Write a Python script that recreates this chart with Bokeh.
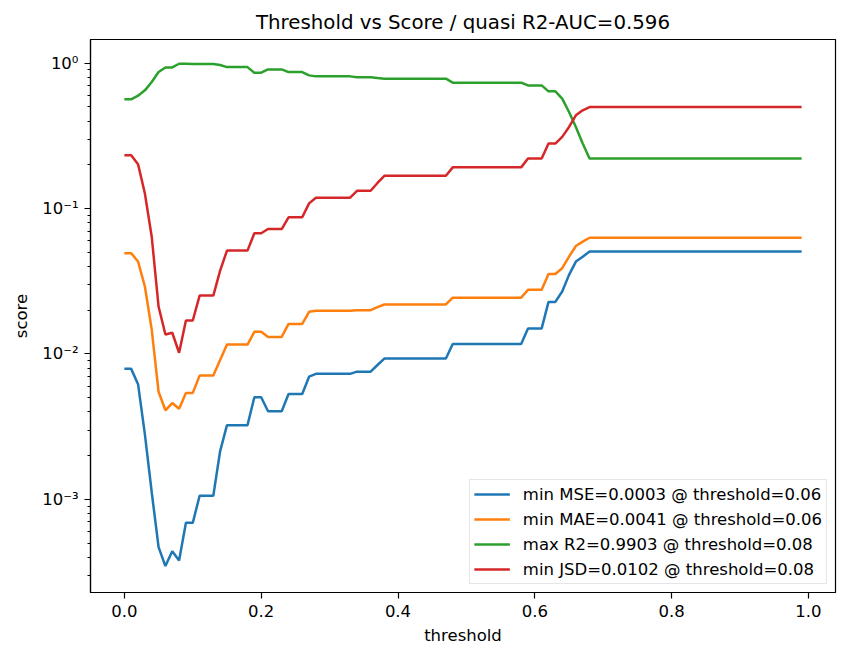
from bokeh.plotting import figure
from bokeh.models import Range1d, FixedTicker, Legend, LegendItem, PrintfTickFormatter
from bokeh.embed import file_html
from bokeh.resources import INLINE

thresholds = [
    0.00, 0.01, 0.02, 0.03, 0.04, 0.05, 0.06, 0.07, 0.08, 0.09,
    0.10, 0.11, 0.12, 0.13, 0.14, 0.15, 0.16, 0.17, 0.18, 0.19,
    0.20, 0.21, 0.22, 0.23, 0.24, 0.25, 0.26, 0.27, 0.28, 0.29,
    0.30, 0.31, 0.32, 0.33, 0.34, 0.35, 0.36, 0.37, 0.38, 0.39,
    0.40, 0.41, 0.42, 0.43, 0.44, 0.45, 0.46, 0.47, 0.48, 0.49,
    0.50, 0.51, 0.52, 0.53, 0.54, 0.55, 0.56, 0.57, 0.58, 0.59,
    0.60, 0.61, 0.62, 0.63, 0.64, 0.65, 0.66, 0.67, 0.68, 0.69,
    0.70, 0.71, 0.72, 0.73, 0.74, 0.75, 0.76, 0.77, 0.78, 0.79,
    0.80, 0.81, 0.82, 0.83, 0.84, 0.85, 0.86, 0.87, 0.88, 0.89,
    0.90, 0.91, 0.92, 0.93, 0.94, 0.95, 0.96, 0.97, 0.98, 0.99,
]

mse = [
    0.0079, 0.0079, 0.0062, 0.0028, 0.00112, 0.00047, 0.000348, 0.00044, 0.00038, 0.00069,
    0.00069, 0.00106, 0.00106, 0.00106, 0.00215, 0.00324, 0.00324, 0.00324, 0.00324, 0.00504,
    0.00504, 0.00404, 0.00404, 0.00404, 0.00531, 0.00531, 0.00531, 0.00698, 0.0073, 0.0073,
    0.0073, 0.0073, 0.0073, 0.0073, 0.00756, 0.00756, 0.00756, 0.0084, 0.0093, 0.0093,
    0.0093, 0.0093, 0.0093, 0.0093, 0.0093, 0.0093, 0.0093, 0.0093, 0.0117, 0.0117,
    0.0117, 0.0117, 0.0117, 0.0117, 0.0117, 0.0117, 0.0117, 0.0117, 0.0117, 0.0150,
    0.0150, 0.0150, 0.0228, 0.0228, 0.0269, 0.0350, 0.0432, 0.0467, 0.0506, 0.0506,
    0.0506, 0.0506, 0.0506, 0.0506, 0.0506, 0.0506, 0.0506, 0.0506, 0.0506, 0.0506,
    0.0506, 0.0506, 0.0506, 0.0506, 0.0506, 0.0506, 0.0506, 0.0506, 0.0506, 0.0506,
    0.0506, 0.0506, 0.0506, 0.0506, 0.0506, 0.0506, 0.0506, 0.0506, 0.0506, 0.0506,
]

mae = [
    0.0493, 0.0493, 0.0432, 0.0291, 0.0147, 0.0055, 0.0041, 0.0046, 0.0042, 0.0054,
    0.0054, 0.0071, 0.0071, 0.0071, 0.0091, 0.0116, 0.0116, 0.0116, 0.0116, 0.0142,
    0.0142, 0.0131, 0.0131, 0.0131, 0.0161, 0.0161, 0.0161, 0.0195, 0.0198, 0.0198,
    0.0198, 0.0198, 0.0198, 0.0198, 0.0200, 0.0200, 0.0200, 0.0210, 0.0219, 0.0219,
    0.0219, 0.0219, 0.0219, 0.0219, 0.0219, 0.0219, 0.0219, 0.0219, 0.0244, 0.0244,
    0.0244, 0.0244, 0.0244, 0.0244, 0.0244, 0.0244, 0.0244, 0.0244, 0.0244, 0.0276,
    0.0276, 0.0276, 0.0355, 0.0355, 0.0389, 0.0467, 0.0553, 0.0592, 0.0630, 0.0630,
    0.0630, 0.0630, 0.0630, 0.0630, 0.0630, 0.0630, 0.0630, 0.0630, 0.0630, 0.0630,
    0.0630, 0.0630, 0.0630, 0.0630, 0.0630, 0.0630, 0.0630, 0.0630, 0.0630, 0.0630,
    0.0630, 0.0630, 0.0630, 0.0630, 0.0630, 0.0630, 0.0630, 0.0630, 0.0630, 0.0630,
]

r2 = [
    0.564, 0.564, 0.597, 0.650, 0.741, 0.868, 0.934, 0.934, 0.9903, 0.990,
    0.988, 0.986, 0.986, 0.985, 0.970, 0.939, 0.939, 0.939, 0.939, 0.859,
    0.859, 0.905, 0.905, 0.905, 0.868, 0.868, 0.868, 0.824, 0.811, 0.811,
    0.811, 0.811, 0.811, 0.811, 0.800, 0.800, 0.800, 0.790, 0.782, 0.782,
    0.782, 0.782, 0.782, 0.782, 0.782, 0.782, 0.782, 0.782, 0.734, 0.734,
    0.734, 0.734, 0.734, 0.734, 0.734, 0.734, 0.734, 0.734, 0.734, 0.703,
    0.703, 0.703, 0.640, 0.640, 0.570, 0.461, 0.364, 0.280, 0.221, 0.221,
    0.221, 0.221, 0.221, 0.221, 0.221, 0.221, 0.221, 0.221, 0.221, 0.221,
    0.221, 0.221, 0.221, 0.221, 0.221, 0.221, 0.221, 0.221, 0.221, 0.221,
    0.221, 0.221, 0.221, 0.221, 0.221, 0.221, 0.221, 0.221, 0.221, 0.221,
]

jsd = [
    0.233, 0.233, 0.202, 0.127, 0.064, 0.0212, 0.0136, 0.0140, 0.0102, 0.0170,
    0.0170, 0.0252, 0.0252, 0.0252, 0.0374, 0.0514, 0.0514, 0.0514, 0.0514, 0.0676,
    0.0676, 0.0723, 0.0723, 0.0723, 0.0871, 0.0871, 0.0871, 0.1086, 0.1187, 0.1187,
    0.1187, 0.1187, 0.1187, 0.1187, 0.1325, 0.1325, 0.1325, 0.150, 0.168, 0.168,
    0.168, 0.168, 0.168, 0.168, 0.168, 0.168, 0.168, 0.168, 0.192, 0.192,
    0.192, 0.192, 0.192, 0.192, 0.192, 0.192, 0.192, 0.192, 0.192, 0.221,
    0.221, 0.221, 0.280, 0.280, 0.311, 0.364, 0.438, 0.474, 0.499, 0.499,
    0.499, 0.499, 0.499, 0.499, 0.499, 0.499, 0.499, 0.499, 0.499, 0.499,
    0.499, 0.499, 0.499, 0.499, 0.499, 0.499, 0.499, 0.499, 0.499, 0.499,
    0.499, 0.499, 0.499, 0.499, 0.499, 0.499, 0.499, 0.499, 0.499, 0.499,
]

series_labels = [
    "min MSE=0.0003 @ threshold=0.06",
    "min MAE=0.0041 @ threshold=0.06",
    "max R2=0.9903 @ threshold=0.08",
    "min JSD=0.0102 @ threshold=0.08",
]
series_colors = ["#1f77b4", "#ff7f0e", "#2ca02c", "#d62728"]

title_text = "Threshold vs Score / quasi R2-AUC=0.596"
x_ticks = [0.0, 0.2, 0.4, 0.6, 0.8, 1.0]
y_ticks = [0.001, 0.01, 0.1, 1.0]
y_tick_labels = {0.001: "10⁻³", 0.01: "10⁻²", 0.1: "10⁻¹", 1.0: "10⁰"}

FONT = "DejaVu Sans"

p = figure(
    width=857, height=647,
    y_axis_type="log",
    x_range=Range1d(-0.0495, 1.0395),
    y_range=Range1d(2.29e-4, 1.454),
    output_backend="svg", toolbar_location=None,
    title=title_text,
    min_border_left=90, min_border_right=22,
    min_border_top=39, min_border_bottom=54,
)
p.grid.visible = False
p.background_fill_color = "white"
p.border_fill_color = "white"
p.outline_line_color = "black"
p.outline_line_width = 1.2

p.title.align = "center"
p.title.text_font = FONT
p.title.text_font_size = "19.8px"
p.title.text_font_style = "normal"
p.title.text_color = "black"
p.title.standoff = 11

for ax in (p.xaxis[0], p.yaxis[0]):
    ax.axis_line_color = "black"
    ax.axis_line_width = 1.2
    ax.major_tick_in = 0
    ax.major_tick_out = 6
    ax.minor_tick_in = 0
    ax.minor_tick_out = 3
    ax.major_tick_line_color = "black"
    ax.minor_tick_line_color = "black"
    ax.major_tick_line_width = 1.2
    ax.minor_tick_line_width = 1
    ax.major_label_text_font = FONT
    ax.major_label_text_font_size = "16.5px"
    ax.major_label_text_color = "black"
    ax.major_label_standoff = 6
    ax.axis_label_text_font = FONT
    ax.axis_label_text_font_size = "16.5px"
    ax.axis_label_text_font_style = "normal"
    ax.axis_label_text_color = "black"

p.xaxis.axis_label_standoff = 6
p.yaxis.axis_label_standoff = 8

p.xaxis.ticker = FixedTicker(ticks=x_ticks, minor_ticks=[])
p.xaxis.formatter = PrintfTickFormatter(format="%.1f")
p.xaxis.axis_label = "threshold"

minor = [m * 10.0 ** e for e in range(-4, 1) for m in range(2, 10)]
p.yaxis.ticker = FixedTicker(ticks=y_ticks, minor_ticks=minor)
p.yaxis.major_label_overrides = y_tick_labels
p.yaxis.axis_label = "score"

items = []
for vals, lab, col in zip([mse, mae, r2, jsd], series_labels, series_colors):
    r = p.line(thresholds, vals, line_color=col, line_width=2.5)
    items.append(LegendItem(label=lab, renderers=[r]))

legend = Legend(
    items=items, location="bottom_right",
    label_text_font=FONT, label_text_font_size="16.5px", label_text_color="black",
    glyph_width=36, glyph_height=20, label_height=20, label_standoff=13,
    spacing=5, padding=4, margin=8,
    border_line_color="#cccccc", border_line_width=1,
    background_fill_color="white", background_fill_alpha=0.8,
)
p.add_layout(legend, "center")

open("out.html", "w").write(file_html(p, INLINE))
